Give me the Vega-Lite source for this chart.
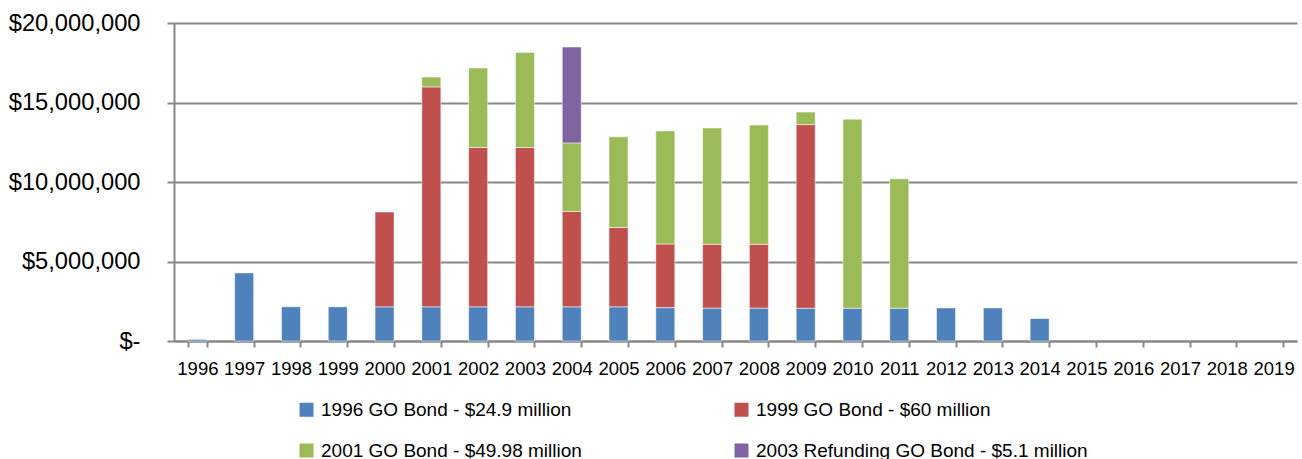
{
  "$schema": "https://vega.github.io/schema/vega-lite/v6.json",
  "autosize": "none",
  "width": 1123,
  "height": 318,
  "padding": {"left": 174, "top": 23, "right": 5, "bottom": 118},
  "background": "white",
  "config": {
    "font": "Liberation Sans",
    "view": {"stroke": null}
  },
  "data": {
    "values": [
      {"year": "1996", "series": "1996 GO Bond - $24.9 million", "amount": 100000},
      {"year": "1997", "series": "1996 GO Bond - $24.9 million", "amount": 4280000},
      {"year": "1998", "series": "1996 GO Bond - $24.9 million", "amount": 2150000},
      {"year": "1999", "series": "1996 GO Bond - $24.9 million", "amount": 2150000},
      {"year": "2000", "series": "1996 GO Bond - $24.9 million", "amount": 2150000},
      {"year": "2001", "series": "1996 GO Bond - $24.9 million", "amount": 2150000},
      {"year": "2002", "series": "1996 GO Bond - $24.9 million", "amount": 2150000},
      {"year": "2003", "series": "1996 GO Bond - $24.9 million", "amount": 2150000},
      {"year": "2004", "series": "1996 GO Bond - $24.9 million", "amount": 2150000},
      {"year": "2005", "series": "1996 GO Bond - $24.9 million", "amount": 2150000},
      {"year": "2006", "series": "1996 GO Bond - $24.9 million", "amount": 2100000},
      {"year": "2007", "series": "1996 GO Bond - $24.9 million", "amount": 2070000},
      {"year": "2008", "series": "1996 GO Bond - $24.9 million", "amount": 2070000},
      {"year": "2009", "series": "1996 GO Bond - $24.9 million", "amount": 2060000},
      {"year": "2010", "series": "1996 GO Bond - $24.9 million", "amount": 2060000},
      {"year": "2011", "series": "1996 GO Bond - $24.9 million", "amount": 2060000},
      {"year": "2012", "series": "1996 GO Bond - $24.9 million", "amount": 2080000},
      {"year": "2013", "series": "1996 GO Bond - $24.9 million", "amount": 2080000},
      {"year": "2014", "series": "1996 GO Bond - $24.9 million", "amount": 1410000},
      {"year": "2000", "series": "1999 GO Bond - $60 million", "amount": 5960000},
      {"year": "2001", "series": "1999 GO Bond - $60 million", "amount": 13830000},
      {"year": "2002", "series": "1999 GO Bond - $60 million", "amount": 10020000},
      {"year": "2003", "series": "1999 GO Bond - $60 million", "amount": 10020000},
      {"year": "2004", "series": "1999 GO Bond - $60 million", "amount": 6000000},
      {"year": "2005", "series": "1999 GO Bond - $60 million", "amount": 4990000},
      {"year": "2006", "series": "1999 GO Bond - $60 million", "amount": 4000000},
      {"year": "2007", "series": "1999 GO Bond - $60 million", "amount": 4010000},
      {"year": "2008", "series": "1999 GO Bond - $60 million", "amount": 4010000},
      {"year": "2009", "series": "1999 GO Bond - $60 million", "amount": 11550000},
      {"year": "2001", "series": "2001 GO Bond - $49.98 million", "amount": 620000},
      {"year": "2002", "series": "2001 GO Bond - $49.98 million", "amount": 5000000},
      {"year": "2003", "series": "2001 GO Bond - $49.98 million", "amount": 5980000},
      {"year": "2004", "series": "2001 GO Bond - $49.98 million", "amount": 4310000},
      {"year": "2005", "series": "2001 GO Bond - $49.98 million", "amount": 5700000},
      {"year": "2006", "series": "2001 GO Bond - $49.98 million", "amount": 7110000},
      {"year": "2007", "series": "2001 GO Bond - $49.98 million", "amount": 7320000},
      {"year": "2008", "series": "2001 GO Bond - $49.98 million", "amount": 7500000},
      {"year": "2009", "series": "2001 GO Bond - $49.98 million", "amount": 790000},
      {"year": "2010", "series": "2001 GO Bond - $49.98 million", "amount": 11890000},
      {"year": "2011", "series": "2001 GO Bond - $49.98 million", "amount": 8140000},
      {"year": "2004", "series": "2003 Refunding GO Bond - $5.1 million", "amount": 6030000}
    ]
  },
  "mark": {"type": "bar", "stroke": "white", "strokeWidth": 1, "strokeOpacity": 0.5},
  "encoding": {
    "x": {
      "field": "year",
      "type": "nominal",
      "sort": null,
      "scale": {
        "domain": ["1996","1997","1998","1999","2000","2001","2002","2003","2004","2005","2006","2007","2008","2009","2010","2011","2012","2013","2014","2015","2016","2017","2018","2019"],
        "paddingInner": 0.594,
        "paddingOuter": 0.297
      },
      "axis": {
        "title": null,
        "labelAngle": 0,
        "labelFontSize": 18.5,
        "labelColor": "black",
        "labelPadding": 12,
        "tickBand": "extent",
        "tickSize": 6,
        "tickColor": "#888888",
        "tickWidth": 2,
        "domainColor": "#888888",
        "domainWidth": 2,
        "grid": false
      }
    },
    "y": {
      "field": "amount",
      "type": "quantitative",
      "stack": "zero",
      "scale": {"domain": [0, 20000000], "nice": false},
      "axis": {
        "title": null,
        "values": [0, 5000000, 10000000, 15000000, 20000000],
        "labelExpr": "datum.value == 0 ? '$-\u00a0' : format(datum.value, '$,')",
        "labelFontSize": 23.7,
        "labelColor": "black",
        "labelPadding": 27,
        "tickSize": 7,
        "tickColor": "#888888",
        "tickWidth": 2,
        "domainColor": "#888888",
        "domainWidth": 2,
        "grid": true,
        "gridColor": "#888888",
        "gridWidth": 2
      }
    },
    "order": {"field": "series", "sort": "ascending"},
    "color": {
      "field": "series",
      "type": "nominal",
      "scale": {
        "domain": ["1996 GO Bond - $24.9 million", "1999 GO Bond - $60 million", "2001 GO Bond - $49.98 million", "2003 Refunding GO Bond - $5.1 million"],
        "range": ["#4F81BD", "#C0504D", "#9BBB59", "#8064A2"]
      },
      "legend": {
        "title": null,
        "orient": "none",
        "legendX": 123,
        "legendY": 377,
        "direction": "horizontal",
        "columns": 2,
        "symbolType": "square",
        "symbolSize": 196,
        "symbolStrokeWidth": 0,
        "labelFontSize": 19,
        "labelColor": "black",
        "labelOffset": 5,
        "labelLimit": 400,
        "columnPadding": 150,
        "rowPadding": 21
      }
    }
  }
}
